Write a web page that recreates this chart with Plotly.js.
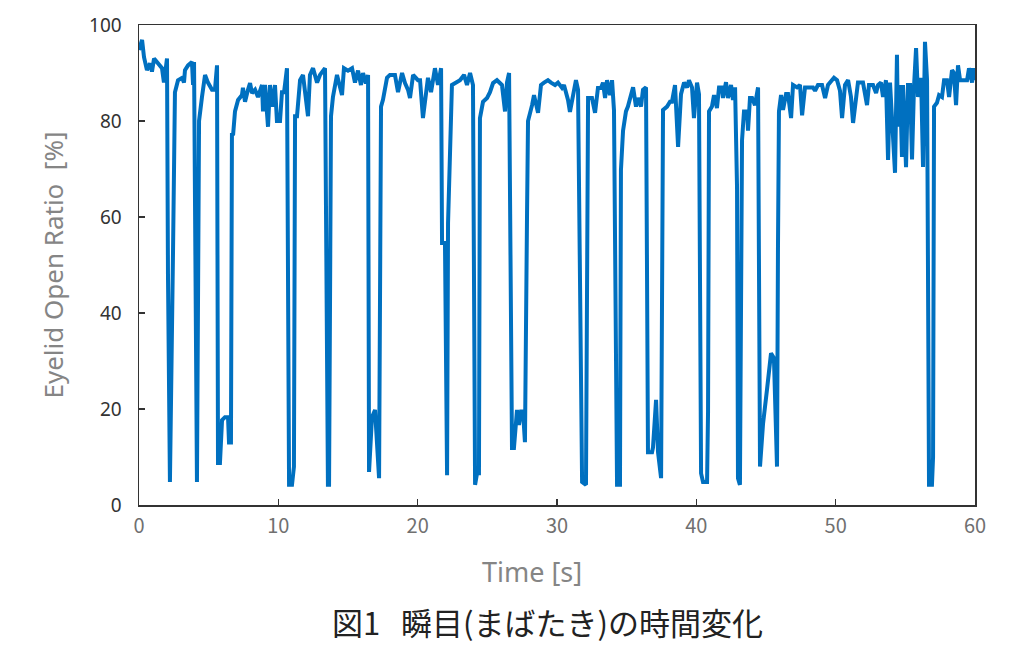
<!DOCTYPE html>
<html>
<head>
<meta charset="utf-8">
<script src="https://cdn.plot.ly/plotly-3.0.1.min.js"></script>
<style>html,body{margin:0;padding:0;background:#fff;}#chart{width:1024px;height:658px;}</style>
</head>
<body>
<div id="chart"></div>
<script>
const timeSec = [
0,0.22,0.36,0.57,0.79,0.93,1.08,1.36,1.65,1.79,2.01,2.08,2.22,2.44,2.58,2.80,3.09,3.23,3.30,3.52,3.80,3.88,3.95,4.16,4.31,4.52,4.74,4.95,5.24,5.45,5.60,5.67,5.81,5.96,6.17,6.39,6.46,6.60,6.67,6.75,6.89,7.11,7.39,7.46,7.61,7.82,7.97,8.11,8.33,8.54,8.83,8.90,9.04,9.26,9.40,9.62,9.76,9.90,10.12,10.26,10.41,10.62,10.77,10.98,11.12,11.20,11.34,11.56,11.77,12.13,12.27,12.49,12.78,12.99,13.35,13.56,13.64,13.78,13.92,14.21,14.57,14.71,15.00,15.29,15.50,15.72,15.93,16.08,16.29,16.44,16.51,16.72,16.94,17.23,17.37,17.51,17.80,18.01,18.37,18.59,18.88,19.09,19.31,19.45,19.67,20.02,20.17,20.38,20.60,20.74,20.96,21.24,21.46,21.68,21.75,21.96,22.11,22.18,22.46,22.82,23.04,23.33,23.54,23.76,23.97,24.12,24.26,24.40,24.47,24.69,24.98,25.19,25.41,25.69,25.91,26.05,26.27,26.41,26.56,26.77,26.91,27.13,27.27,27.42,27.56,27.70,27.85,27.92,28.21,28.35,28.64,28.85,29.07,29.35,29.57,29.86,30.07,30.36,30.50,30.79,30.93,31.15,31.36,31.51,31.80,32.08,32.15,32.23,32.51,32.73,32.94,33.16,33.30,33.45,33.59,33.80,33.95,34.09,34.31,34.52,34.59,34.74,34.95,35.09,35.31,35.46,35.67,35.81,36.03,36.17,36.39,36.53,36.82,36.89,37.11,37.25,37.47,37.61,37.90,38.11,38.25,38.47,38.69,38.90,39.12,39.33,39.47,39.69,39.83,40.05,40.19,40.34,40.48,40.77,40.84,40.91,41.12,41.27,41.48,41.63,41.84,41.91,42.13,42.27,42.49,42.63,42.78,42.92,42.99,43.13,43.28,43.42,43.64,43.71,43.85,44.00,44.21,44.43,44.57,44.79,45.07,45.22,45.36,45.57,45.79,45.86,45.93,46.08,46.22,46.44,46.58,46.80,46.94,47.23,47.44,47.59,47.80,48.02,48.37,48.52,48.73,49.02,49.24,49.45,49.74,49.88,50.10,50.31,50.46,50.67,50.89,51.10,51.25,51.46,51.60,51.96,52.25,52.39,52.68,52.90,53.04,53.25,53.40,53.61,53.76,53.90,54.04,54.26,54.40,54.47,54.62,54.76,54.83,55.05,55.19,55.34,55.48,55.62,55.77,55.91,56.13,56.27,56.41,56.56,56.70,56.91,56.99,57.06,57.27,57.42,57.63,57.78,57.99,58.14,58.35,58.49,58.64,58.78,58.93,59.14,59.43,59.57,59.79,59.86,60.00
];
const eyelidOpen = [
94.8,96.9,93.3,90.6,92,90.3,93,92,91,88,93,48,4.8,52.5,86,88.5,89,88,90.6,91.6,92.3,87.5,92.3,4.8,80,85,89.6,88,86.5,86.5,91.6,8.75,8.75,17.7,18.3,18.3,13,13,77.5,77,82,84.4,85.4,86.9,84,86.5,87.9,85.8,86.5,85,87.5,82,87.5,78.8,87.5,83,87.5,80,80,86,86,91,4.2,4.2,8,81,81,88.5,89.6,81,89.6,91,88,89.6,91,4.2,4.2,81,85,89.6,85.4,91,90.5,91,88,90.5,87.5,90,87.8,89.6,6.9,18.3,19.8,5.6,83,84.4,89,89.6,89.6,86,90,87.9,86.5,84.8,89.6,88.5,88.5,80.6,86.5,89,86,91,87.5,91,54.6,54.6,6.2,58.7,87.5,88,88.5,89.6,87.5,90,87.5,4.2,6.6,6.6,80.6,84,84.8,86,87.9,88.5,88,87.5,82,88,90,11.9,11.9,19.8,16.7,19.5,19.5,13.1,60.8,80,83.3,85.4,81.7,87.5,88,88.5,88,87.5,88,86.9,87.5,84.4,81.9,85,88.5,86.5,4.8,4.2,73.3,84.8,84.8,81.7,86.9,86.9,88,84.8,88.5,85.4,88.5,82.2,4.2,4.2,69.8,78,82,83,85.4,87,83,84.8,83,86.5,87,11,11,12,21.9,11,5.6,82.3,83,84,84,87.5,74.6,85.6,88,87,88.5,87,80.6,88,85.6,6.6,4.8,4.8,19.4,82,83,85.4,82.7,87,87,84.8,88.1,84.8,87.5,84.4,87,66.3,5.6,4.2,76,82,82,78,84.8,84.8,83.3,87,8,17,24,28,31.6,30.6,8,53.8,82,85.4,82.3,85.6,85.6,80.6,87.5,87,87.5,81.2,87,87,87,86.3,87.5,87.5,84.8,87.5,88.5,89,88.5,86.3,80.6,87.5,88.5,85,79.6,85,88,88,83.3,87.5,87.5,85.8,87.5,88,85,88.5,71.9,88,81,69.2,93.8,78.8,87.5,72.5,87.5,70.4,87.5,87.5,72,87,95.2,85,89,70.4,96.5,88.5,4.2,4.2,10,83,83.8,85.4,85,88.5,88.5,85,90.6,90,83.3,91.6,88.5,88.5,88.5,91,88,91,88.5
];
const xTicks = [0,10,20,30,40,50,60];
const yTicks = [0,20,40,60,80,100];
const yTitle = 'Eyelid Open Ratio\u00a0\u00a0[%]';
const xTitle = 'Time [s]';
const caption = '図1\u00a0\u00a0\u00a0瞬目(まばたき)の時間変化';

const latin = '"Noto Sans", "DejaVu Sans", sans-serif';
const narrow = '"Noto Sans CJK JP", "Noto Sans", sans-serif';
const trace = {
  x: timeSec, y: eyelidOpen, type: 'scatter', mode: 'lines',
  line: {color: '#0070C0', width: 4, shape: 'linear'},
  hoverinfo: 'skip'
};
const layout = {
  width: 1024, height: 658,
  margin: {l: 139, r: 49, t: 25, b: 153},
  paper_bgcolor: '#fff', plot_bgcolor: '#fff',
  showlegend: false,
  font: {family: latin},
  xaxis: {
    range: [0, 60], tickvals: xTicks, ticktext: xTicks.map(String),
    ticks: 'inside', ticklen: 6, tickwidth: 1.2, tickcolor: '#333',
    showline: true, linecolor: '#333', linewidth: 1.5, mirror: true,
    showgrid: false, zeroline: false, ticklabelstandoff: 2,
    tickfont: {size: 20, color: '#707070', family: narrow}
  },
  yaxis: {
    range: [0, 100], tickvals: yTicks, ticktext: yTicks.map(String),
    ticks: 'inside', ticklen: 6, tickwidth: 1.2, tickcolor: '#333',
    showline: true, linecolor: '#333', linewidth: 1.5, mirror: true,
    showgrid: false, zeroline: false, ticklabelstandoff: 12,
    tickfont: {size: 19, color: '#333', family: latin},
    title: {text: yTitle, font: {size: 26, color: '#858585', family: latin}, standoff: 18}
  },
  annotations: [
    {text: xTitle, xref: 'paper', yref: 'paper', x: 0.47, y: -0.1375, xanchor: 'center', yanchor: 'middle',
     showarrow: false, font: {size: 27, color: '#858585', family: latin}},
    {text: caption, xref: 'paper', yref: 'paper', x: 0.489, y: -0.242, xanchor: 'center', yanchor: 'middle',
     showarrow: false, font: {size: 31, color: '#222', family: narrow}}
  ]
};
Plotly.newPlot('chart', [trace], layout, {displayModeBar: false, staticPlot: true});
</script>
</body>
</html>
